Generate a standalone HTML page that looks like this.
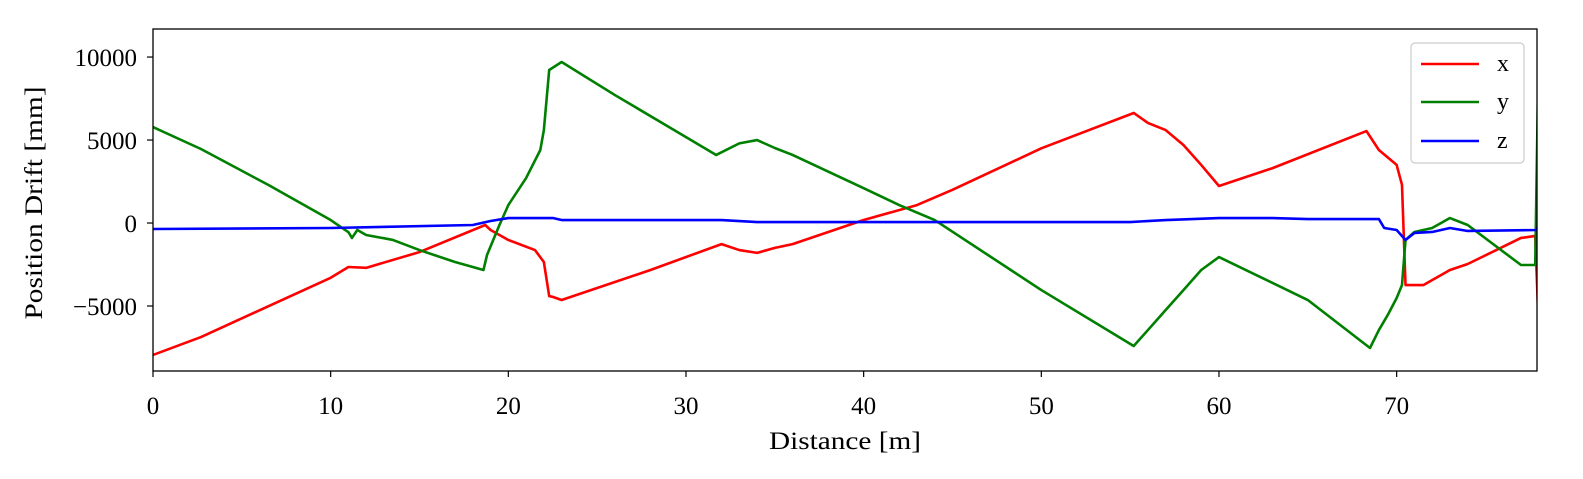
<!DOCTYPE html>
<html><head><meta charset="utf-8"><style>
html,body{margin:0;padding:0;background:#fff;overflow:hidden;width:1583px;height:479px;}
svg{display:block;}
svg text{font-family:"Liberation Serif",serif;fill:#000;}
</style></head><body>
<svg width="1583" height="479" xmlns="http://www.w3.org/2000/svg">
<g id="plot"></g>
</svg>
<script>
const xDist=[0,2.7,10,11,12,15,18.7,19,20,21.5,22,22.3,22.5,23,28,32,33,34,35,36,40,43,45,50,55.2,56,57,58,59,60,63,68.3,69,70,70.3,70.5,71.5,73,74,77,77.8,78];
const xVals=[-7950,-6870,-3300,-2650,-2700,-1750,-120,-420,-1020,-1630,-2350,-4400,-4450,-4640,-2830,-1270,-1630,-1800,-1500,-1270,180,1080,2000,4500,6630,6030,5600,4700,3500,2230,3300,5540,4400,3500,2300,-3740,-3740,-2830,-2470,-900,-780,-6450];
const yDist=[0,2.7,6.5,10,11,11.2,11.5,12,13.5,15,17,18.6,18.8,19.5,20,21,21.8,22,22.3,23,26,31.7,33,34,35,36,40,42,44,50,55.2,56,57,58,59,60,65,68.5,69,69.5,70,70.3,70.5,71,72,73,74,77,77.8,78];
const yVals=[5780,4460,2290,180,-550,-900,-420,-720,-1020,-1630,-2350,-2830,-1930,-120,1080,2710,4400,5600,9220,9700,7710,4100,4800,5000,4520,4100,2100,1080,180,-4040,-7410,-6450,-5240,-4040,-2830,-2050,-4640,-7530,-6450,-5540,-4520,-3740,-1020,-540,-300,300,-120,-2530,-2530,11000];
const zDist=[0,10,18,19,20,22.5,23,30,32,34,40,50,55,57,60,63,65,69,69.3,70,70.5,71,72,73,74,77.9,78];
const zVals=[-360,-300,-120,120,300,300,180,180,180,60,60,60,60,180,300,300,240,240,-300,-420,-1020,-600,-540,-300,-480,-420,120];
const xTicks=[0,10,20,30,40,50,60,70];
const yTicks=[10000,5000,0,-5000];
const L=153,R=1537,T=29,B=371,XMAX=77.9,YMIN=-8916,YMAX=11690;
const sx=d=>L+d/XMAX*(R-L);
const sy=v=>B-(v-YMIN)/(YMAX-YMIN)*(B-T);
const NS="http://www.w3.org/2000/svg";
const g=document.getElementById('plot');
function mk(t,a,p){const e=document.createElementNS(NS,t);for(const k in a)e.setAttribute(k,a[k]);(p||g).appendChild(e);return e;}
const clip=mk('clipPath',{id:'c'});mk('rect',{x:L,y:T,width:R-L,height:B-T},clip);
function series(ds,vs,col,name){
  const p=mk('polyline',{points:ds.map((d,i)=>sx(d)+','+sy(vs[i])).join(' '),fill:'none',stroke:col,'stroke-width':2.6,'stroke-linejoin':'round','clip-path':'url(#c)'});
  
  
}
series(xDist,xVals,'#ff0000','series-x');
series(yDist,yVals,'#008000','series-y');
series(zDist,zVals,'#0000ff','series-z');
const fr=mk('rect',{x:L,y:T,width:R-L,height:B-T,fill:'none',stroke:'#000','stroke-width':1.3});


xTicks.forEach(t=>{
  mk('line',{x1:sx(t),x2:sx(t),y1:B,y2:B+6,stroke:'#000','stroke-width':1.2});
  const tx=mk('text',{x:sx(t),y:414,'text-anchor':'middle','font-size':25});tx.textContent=t;
  
  
});
yTicks.forEach(t=>{
  mk('line',{x1:L-6,x2:L,y1:sy(t),y2:sy(t),stroke:'#000','stroke-width':1.2});
  const tx=mk('text',{x:L-16,y:sy(t)+9,'text-anchor':'end','font-size':25});tx.textContent=t<0?'\u2212'+(-t):t;
  
  
});
const xl=mk('text',{x:(L+R)/2,y:449,'text-anchor':'middle','font-size':25,textLength:152,lengthAdjust:'spacingAndGlyphs'});xl.textContent='Distance [m]';


const yl=mk('text',{x:0,y:0,'text-anchor':'middle','font-size':25,textLength:233,lengthAdjust:'spacingAndGlyphs',transform:'translate(42,203) rotate(-90)'});yl.textContent='Position Drift [mm]';


const lg=mk('g',{});


mk('rect',{x:1411,y:43,width:113,height:120,rx:4,fill:'#fff','fill-opacity':0.85,stroke:'#ccc','stroke-width':1.2},lg);
[['x','#ff0000',64],['y','#008000',102],['z','#0000ff',141]].forEach(([n,c,y])=>{
  const e=mk('g',{},lg);
  
  
  mk('line',{x1:1421,x2:1479,y1:y,y2:y,stroke:c,'stroke-width':2.6},e);
  const t=mk('text',{x:1497,y:y+7,'font-size':24},e);t.textContent=n;
});
</script>
</body></html>
